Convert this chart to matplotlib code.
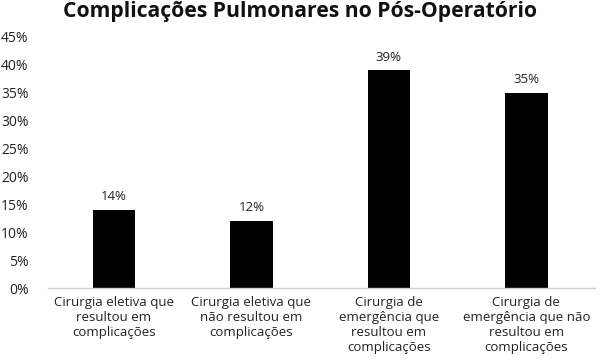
import matplotlib.pyplot as plt
from matplotlib.ticker import FuncFormatter

categories = [
    "Cirurgia eletiva que\nresultou em\ncomplicações",
    "Cirurgia eletiva que\nnão resultou em\ncomplicações",
    "Cirurgia de\nemergência que\nresultou em\ncomplicações",
    "Cirurgia de\nemergência que não\nresultou em\ncomplicações",
]
values = [14, 12, 39, 35]
yticks = [0, 5, 10, 15, 20, 25, 30, 35, 40, 45]

plt.rcParams['font.family'] = ['Open Sans', 'DejaVu Sans']

fig = plt.figure(figsize=(6, 3.62), dpi=100)
ax = fig.add_axes([48 / 600, 1 - 288 / 362, (595 - 48) / 600, (288 - 37) / 362])

x = range(len(values))
bars = ax.bar(x, values, width=0.31, color='black')
for xi, v in zip(x, values):
    ax.text(xi, v + 1.2, f"{v}%", ha='center', va='bottom', fontsize=9.5, color='#222222')

ax.set_xlim(-0.48, 3.5)
ax.set_ylim(0, 45)
ax.set_yticks(yticks)
ax.yaxis.set_major_formatter(FuncFormatter(lambda v, p: f"{int(v)}%"))
ax.set_xticks(list(x))
ax.set_xticklabels(categories, fontsize=9.5, color='#222222', linespacing=1.2)
ax.tick_params(axis='y', length=0, pad=14, labelsize=10, labelcolor='#222222')
ax.tick_params(axis='x', length=0, pad=6)

for s in ['top', 'right', 'left']:
    ax.spines[s].set_visible(False)
ax.spines['bottom'].set_color('#d0d0d0')
ax.spines['bottom'].set_linewidth(1)

fig.text(0.5, 1 - 12 / 362, "Complicações Pulmonares no Pós-Operatório",
         ha='center', va='center', fontsize=15.2, fontweight='bold', color='#111111')

fig.savefig('out.png', dpi=100)
